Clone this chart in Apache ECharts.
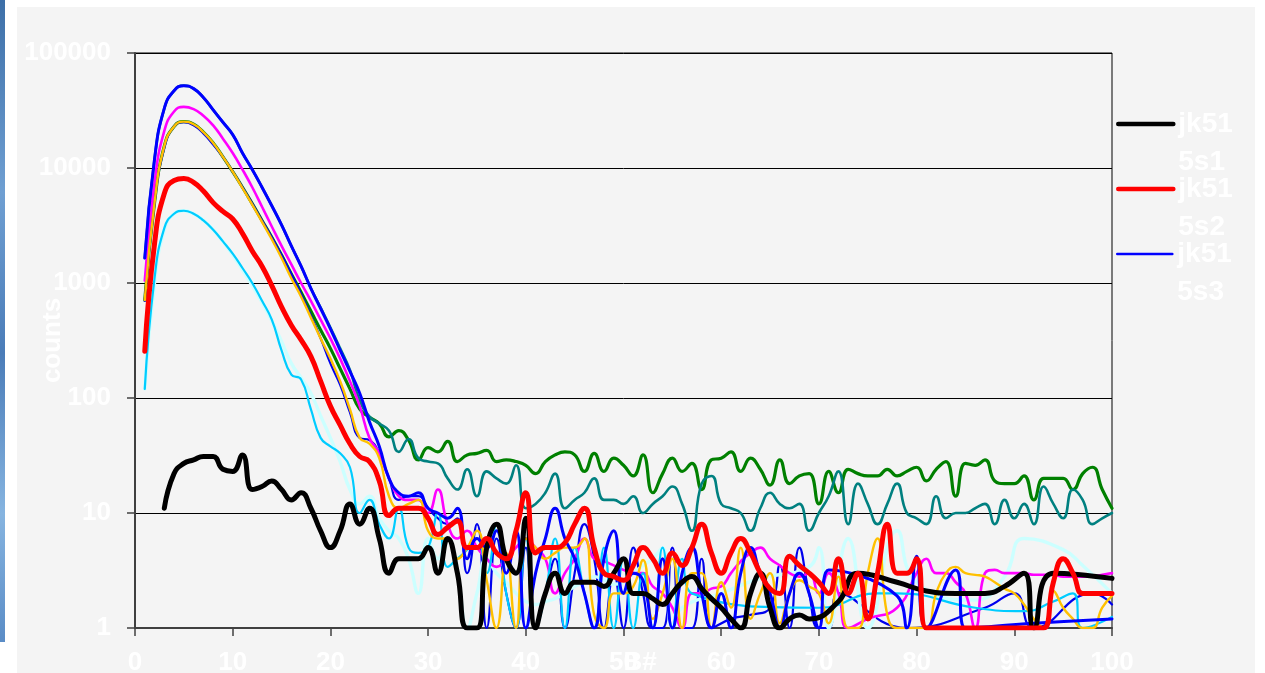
<!DOCTYPE html>
<html>
<head>
<meta charset="utf-8">
<script src="https://cdn.jsdelivr.net/npm/echarts@6/dist/echarts.min.js"></script>
<style>
  html, body { margin:0; padding:0; background:#ffffff; width:1265px; height:673px; overflow:hidden; }
  #bg { position:absolute; left:17px; top:7px; width:1238px; height:666px; background:#f4f4f4; }
  #strip { position:absolute; left:0; top:0; width:5px; height:642px;
           background:linear-gradient(180deg,#3d6fa8 0%,#6f9fd2 30%,#4a7cb8 55%,#86b4e0 80%,#5a8cc6 100%); }
  #chart { position:absolute; left:0; top:0; width:1265px; height:673px; }
</style>
</head>
<body>
<div id="bg"></div>
<div id="strip"></div>
<div id="chart"></div>
<script>
// ---- data ----
const bins = Array.from({length: 100}, (_, i) => i + 1);   // B# 1..100
const xTickLabels = ['0','10','20','30','40','50','60','70','80','90','100'];
const yTickLabels = ['1','10','100','1000','10000','100000'];
const seriesNames = ['jk515s1','jk515s2','jk515s3','s4','s5','s6','s7','s8','s9','s10'];
const legendLabels = [' \njk51\n5s1',' \njk51\n5s2',' \njk51\n5s3'];

const s1 = [null,null,11,22,27,29,31,31,24,23,
  32,16,17,19,16,13,15,11,7,5,
  7,12,8,11,6,3,4,4,4,5,
  3,6,3,1,1,5,8,4,3,9,
  1,2,3,2,2.5,2.5,2.5,2.3,3,4,
  2,2,1.8,1.6,2,2.5,2.8,2.2,1.8,1.5,
  1.2,1,2,3,1.5,1,1.2,1.3,1.2,null,
  null,1.7,null,3,null,null,null,2.5,null,null,
  2.1,null,null,2,null,null,2,null,2.3,null,
  3,1,null,3,null,null,null,null,null,2.7];

const s2 = [255,2200,6000,7800,8100,7500,6300,5000,4200,3600,
  2700,1900,1400,950,620,430,320,230,140,85,
  58,40,31,28,19,9.5,11,11,11,9,
  6.5,7.5,8.5,5,5,6,4.5,4,7,15,
  4.5,5,5,5.5,8,11,5,3,2.8,2.6,
  3.5,5,4,3,4.5,3.5,5,8,4.5,3,
  4.5,6,4.5,3,2.2,2,4.2,3.5,3,2.5,
  2,4,2,3,1.2,3,8,3,3,4,
  1,1,1,1,1,1,1,1,1,1,
  1,1,1,2.5,4,3,2,2,2,2];

const s3 = [1650,12000,33000,47000,52000,49000,41000,32000,25000,19500,
  13500,9700,6800,4700,3200,2100,1400,900,600,400,
  260,170,110,62,38,20,15,14,15,11,
  10,9,11,4,6,5,7,3,7,1,
  3,6,11,6,4,2,1,4,7,2,
  3,2.6,1,4,1,3,5,2,1,2,
  1,3,5,3,2,1,2,3,2,1,
  3.2,null,null,null,null,null,null,1.9,1,4.2,
  1,null,null,3.2,1,null,null,null,null,null,
  null,1.1,null,null,null,null,null,null,null,1.2];

const s4 = [1050,7500,21000,31000,34000,32500,28500,23500,18000,13500,
  9700,6800,4600,3100,2100,1450,1000,700,480,330,
  220,140,85,45,33,20,14,13,13,10,
  16,8,6,7,5,4,3.4,4,5,6,
  5,4,2,3,4,6,4,3.8,3.5,3.2,
  3,3,2.3,2,1.5,1,2,2,2.2,2.3,
  3,3.8,4.5,5,4,3.5,3,2.8,3,2,
  3,2,1,null,1.2,null,null,1.5,null,3,
  4,3,3,2.5,2,1,3,3.2,3,3,
  3,2.9,2.9,2.9,2.8,2.8,2.8,2.8,2.9,3];

const s5 = [710,5000,15500,23000,25300,24000,20500,16500,12500,9300,
  6700,4800,3400,2400,1650,1100,760,500,330,220,
  140,80,45,40,30,14,11,12,13,7,
  6,6,4,5,7,2.6,1,4.5,1,6,
  5,4,4.5,5,5,6,1.3,1,2,2,
  2.3,3.9,1.2,2,4,1,3,3,1,2.5,
  1.5,5,1.2,2,3,1.1,2,2.6,2.3,2,
  1.1,2.8,1,1,3,6,1.3,1,1,1,
  1,2,3,3.4,3,2.9,2.8,2.5,2.2,2,
  1.6,1.2,1,2.1,1.5,1.2,1,1,1.5,1.9];

const s6 = [710,5000,15500,23000,25300,24000,20500,16500,12500,9300,
  6800,4900,3500,2500,1750,1200,830,570,390,270,
  180,120,80,68,60,46,52,43,29,37,
  34,42,28,32,33,35,28,29,28,26,
  22,28,32,34,32,23,33,23,30,26,
  21,32,15,22,30,23,27,16,29,30,
  34,23,30,24,17.5,29,18,21,22,12,
  23,15,24,22,21,21,24,21,23,25,
  19,24,28,14,27,26,29,19,18,18,
  21,13,20,20,20,16,22,25,16,11];

const s7 = [1650,12000,33000,47000,52000,49000,41000,32000,25000,19500,
  13500,9700,6800,4700,3200,2100,1400,900,610,410,
  270,175,95,69,60,52,34,44,30,28,
  27,20,16,24,14,23,20,18,26,11,
  12,15,22,11,13,15,20,13,13,12,
  14,10,12,14,17,12,7,18,21,12,
  11,10,7,11,15,12,11,12,7,10,
  14,23,8,18,12,8,12,18,10,9,
  8,14,9,10,10,11,12,8,13,9,
  12,8,17,12,9,16,13,8,9,10];

const s8 = [700,5000,15000,23000,25000,23500,20000,16000,12500,9300,
  6800,4900,3500,2500,1750,1200,800,520,330,200,
  130,75,45,43,33,20,13,14,14,11,
  9,8,9,3,8,1,6,2,1,5,
  1,2,4,1,3,8,4,1,3,1,
  5,2,1,1,5,1,1,4,1,null,
  1.2,null,1.3,null,1.5,3.5,1,5,2,1,
  1,2,null,null,null,null,null,null,1,null,
  null,null,null,null,null,null,1.5,null,null,2,
  null,1,null,null,null,null,null,2,null,1.6];

const s9 = [120,1100,3000,4000,4250,4000,3500,2900,2300,1800,
  1350,1000,700,480,260,160,145,80,45,38,
  33,25,10,13,8,6,11,5,4.5,5,
  10,3.4,4,4.8,6,3,8,2,1,6,
  1,2,6,1,5,2,1,5,1,4,
  1,3,1,5,1,4,2,null,null,null,
  null,null,null,null,null,null,null,null,null,1.5,
  null,null,null,null,null,2,null,2,null,null,
  null,null,null,null,null,1.5,null,null,null,null,
  1.4,null,null,1.7,null,2,1,null,null,1.25];

const s10 = [120,1000,2900,4000,4250,4000,3500,2900,2300,1750,
  1300,950,680,470,310,200,150,110,70,45,
  28,16,12,14,9,7,6,4,2,6,
  4,6,3,1,2,4,3,2.5,2,1.7,
  1.6,1.7,1.8,2,2.3,2.5,2.8,2.6,2.4,2.5,
  3,3.5,4,5,1,1.5,null,null,null,2,
  null,null,null,2.7,null,null,null,null,3.4,5,
  1,null,6,null,1,null,null,7,null,2.5,
  null,null,null,null,null,1.75,null,null,2.8,null,
  6,null,null,null,4.8,null,3.5,null,null,2];

const allValues = [s1,s2,s3,s4,s5,s6,s7,s8,s9,s10];
const colors = ['#000000','#FF0000','#0000FF','#FF00FF','#FFC000','#008000','#008080','#0000EE','#00CCFF','#CCFFFF'];
const widths = [5,5,3,2.6,2.4,3.2,2.6,2.2,2.2,3.4];
const zOrder = [9,10,8,5,6,2,3,4,5,4];

// ---- chart ----
const chart = echarts.init(document.getElementById('chart'), null, {renderer:'canvas'});
const FONT = 'Liberation Sans, Arial, sans-serif';
const whiteBold = {color:'#ffffff', fontWeight:'bold', fontFamily:FONT};

const series = allValues.map((vals, k) => ({
  name: seriesNames[k],
  type: 'line',
  data: bins.map((b, i) => [b, vals[i]]),
  smooth: 0.5,
  connectNulls: true,
  symbol: 'none',
  showSymbol: false,
  clip: true,
  z: zOrder[k],
  lineStyle: {color: colors[k], width: widths[k], cap: 'round', join: 'round'},
  itemStyle: {color: colors[k]},
  emphasis: {disabled: true}
}));

const legendTops = [67, 132, 197];
const legends = legendLabels.map((lab, k) => ({
  show: true,
  data: [seriesNames[k]],
  left: 1116,
  top: legendTops[k],
  padding: 0,
  orient: 'vertical',
  itemWidth: 55,
  itemHeight: 14,
  itemGap: 0,
  itemStyle: {opacity: 0},
  lineStyle: {width: [4.6, 4.6, 2.6][k], color: colors[k], cap: 'round'},
  formatter: () => lab,
  selectedMode: false,
  textStyle: Object.assign({}, whiteBold, {fontSize:28, lineHeight:38})
}));

chart.setOption({
  animation: false,
  backgroundColor: 'transparent',
  grid: {left:135, right:153, top:53, bottom:45, show:true, borderColor:'#000000', borderWidth:1,
         backgroundColor:'transparent', containLabel:false, outerBoundsMode:'none'},
  legend: legends,
  xAxis: {
    type: 'value', min: 0, max: 100, interval: 10,
    name: 'B#', nameLocation: 'middle', nameGap: 22, nameMoveOverlap: false,
    nameTextStyle: Object.assign({}, whiteBold, {fontSize:26, verticalAlign:'top', padding:[0,0,0,33]}),
    axisLine: {show:true, onZero:false, lineStyle:{color:'#404040', width:2}},
    axisTick: {show:true, length:8, inside:false, lineStyle:{color:'#404040', width:1.5}},
    axisLabel: Object.assign({}, whiteBold, {fontSize:26, margin:22,
      formatter: v => xTickLabels[Math.round(v/10)]}),
    splitLine: {show:false}
  },
  yAxis: {
    type: 'log', logBase: 10, min: 1, max: 100000,
    name: 'counts', nameLocation: 'middle', nameGap: 69, nameMoveOverlap: false,
    nameTextStyle: Object.assign({}, whiteBold, {fontSize:26}),
    axisLine: {show:true, lineStyle:{color:'#404040', width:2}},
    axisTick: {show:true, length:8, inside:false, lineStyle:{color:'#404040', width:1.5}},
    axisLabel: Object.assign({}, whiteBold, {fontSize:26, margin:24,
      formatter: v => yTickLabels[Math.round(Math.log10(v))]}),
    splitLine: {show:true, lineStyle:{color:'#000000', width:1}},
    minorTick: {show:false}, minorSplitLine: {show:false}
  },
  series: series
});
</script>
</body>
</html>
